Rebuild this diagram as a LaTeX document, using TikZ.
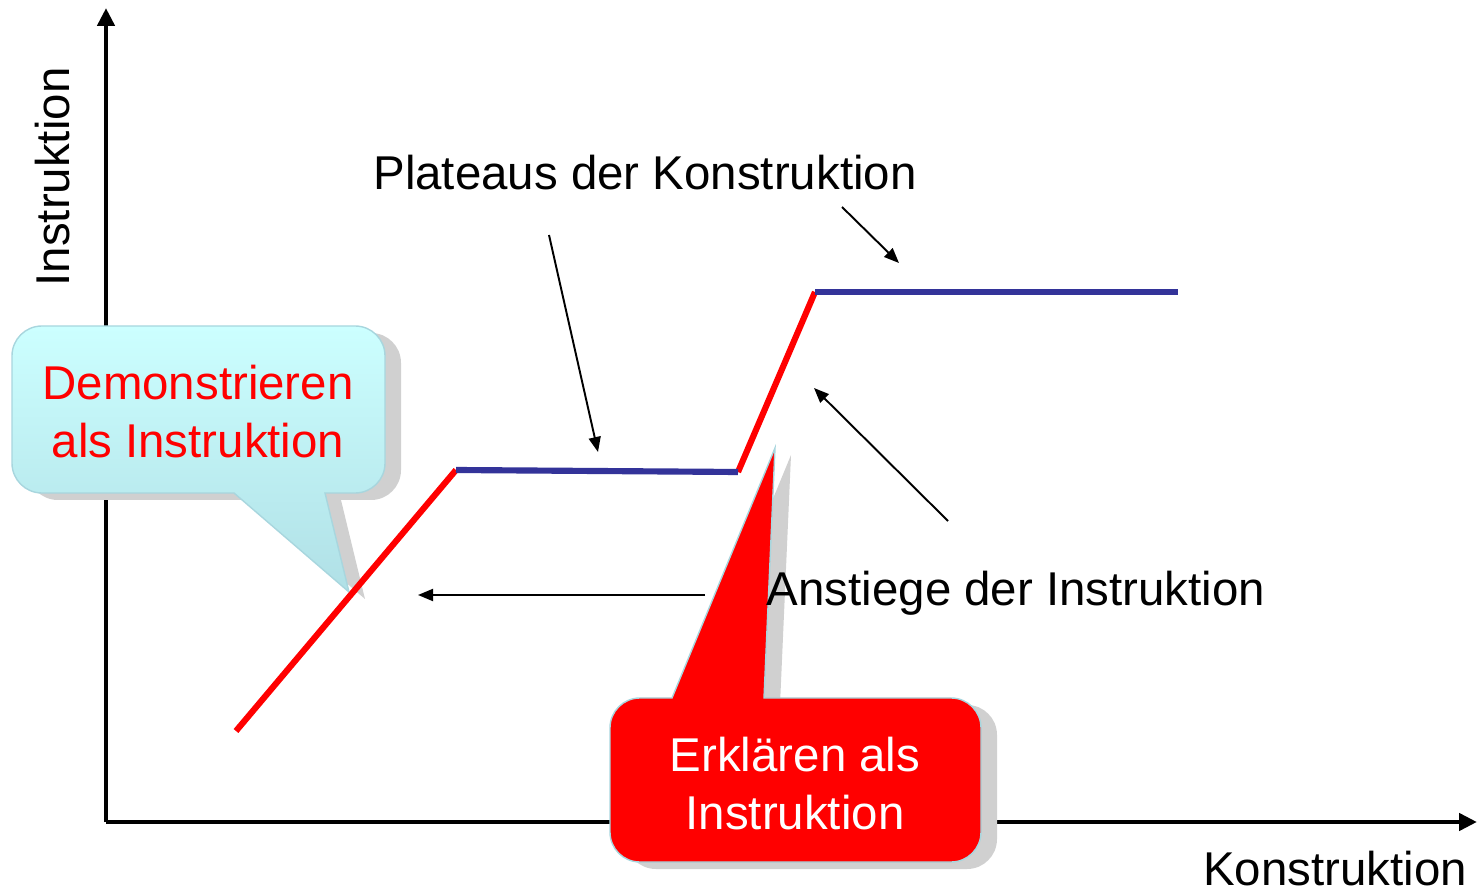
\documentclass[tikz,border=0pt]{standalone}
\usepackage{fontspec}
\setmainfont{Liberation Sans}
\usetikzlibrary{arrows.meta}
\usetikzlibrary{shadows}
\usetikzlibrary{positioning}
\definecolor{plateaublue}{RGB}{51,51,153}
\definecolor{bubbletop}{RGB}{204,255,255}
\definecolor{bubblebottom}{RGB}{176,224,230}
\definecolor{bubbleedge}{RGB}{168,214,222}
\definecolor{shadowgray}{RGB}{208,208,208}
\tikzset{
  axisline/.style={draw, line width=2.8pt, -{Triangle[length=0.36cm, width=0.34cm]}},
  rise/.style={draw, red, line width=3.5pt},
  plateau/.style={draw, plateaublue, line width=3.5pt},
  hint/.style={draw, line width=1.1pt, -{Triangle[length=0.3cm, width=0.24cm]}},
  annot/.style={font=\fontsize{27}{33}\selectfont, anchor=base},
  bubble/.style={draw=bubbleedge, line width=0.8pt,
    drop shadow={shadow xshift=0.32cm, shadow yshift=-0.14cm, fill=shadowgray, opacity=1}},
  bubbletext/.style={font=\fontsize{27}{33}\selectfont, align=center}
  }

\begin{document}
\begin{tikzpicture}[x=0.02cm, y=-0.02cm]
	\useasboundingbox (0,0) rectangle (1478,891);

	% Axes
	\coordinate (origin) at (106,822);
	\coordinate (ytop) at (106,8);
	\coordinate (xend) at (1477,822);
	\draw [axisline] (origin) -- (ytop);
	\draw [axisline] (origin) -- (xend);
	\node[annot, rotate=90] (ylabel) at (70,177) {Instruktion};
	\node[annot] (xlabel) at (1335,885) {Konstruktion};

	% Callouts
	\path[bubble, top color=bubbletop, bottom color=bubblebottom]
	  (12,410) [rounded corners=17pt] -- (12,326) -- (385,326) -- (385,493)
	  [sharp corners] -- (325,493) -- (349,592) -- (234,493) [rounded corners=17pt] -- (12,493) -- cycle;
	\path[bubble, fill=red]
	  (610,780) [rounded corners=17pt] -- (610,698)
	  [sharp corners] -- (672,698) -- (775,448) -- (764,698) [rounded corners=17pt] -- (981,698) -- (981,862) -- (610,862) -- cycle;
	\node[bubbletext, text=red] (demo) at (198,412) {Demonstrieren\\als Instruktion};
	\node[bubbletext, text=white] (explain) at (795,784) {Erklären als\\Instruktion};

	% Curve
	\coordinate (start) at (236,731);
	\coordinate (step1) at (456,470);
	\coordinate (step2) at (738,472);
	\coordinate (step3) at (815,292);
	\coordinate (stop) at (1178,292);
	\draw [rise] (start) -- (step1);
	\draw [rise] (step2) -- (step3);
	\draw [plateau] (step1) -- (step2);
	\draw [plateau] (step3) -- (stop);

	% Labels
	\node[annot] (plateaus) at (645,190) {Plateaus der Konstruktion};
	\node[annot] (anstiege) at (1016,606) {Anstiege der Instruktion};

	% Arrows
	\coordinate (pA) at (549,235);
	\coordinate (pAend) at (598,452);
	\coordinate (pB) at (842,207);
	\coordinate (pBend) at (899,263);
	\coordinate (aA) at (948,521);
	\coordinate (aAend) at (814,388);
	\coordinate (aB) at (705,595);
	\coordinate (aBend) at (418,595);
	\draw [hint] (pA) -- (pAend);
	\draw [hint] (pB) -- (pBend);
	\draw [hint] (aA) -- (aAend);
	\draw [hint] (aB) -- (aBend);
\end{tikzpicture}
\end{document}
